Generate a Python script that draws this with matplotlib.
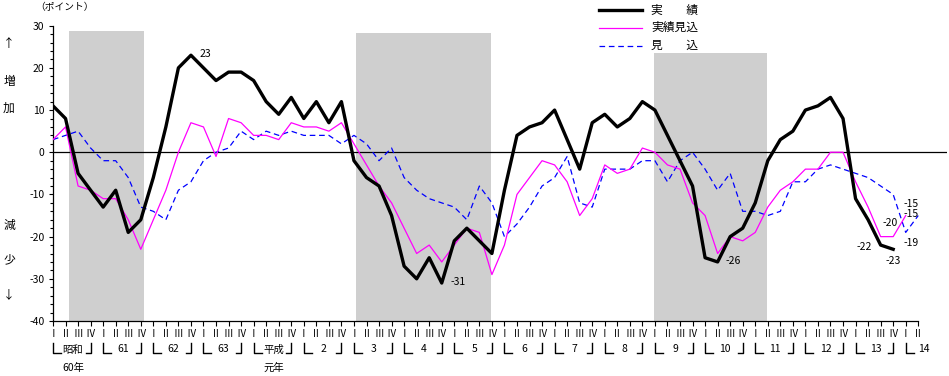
import numpy as np
import matplotlib
matplotlib.use("Agg")
import matplotlib.pyplot as plt
from matplotlib.lines import Line2D
from matplotlib import transforms

plt.rcParams['font.family'] = ['Noto Sans CJK JP', 'DejaVu Sans']
plt.rcParams['axes.unicode_minus'] = False

# 昭和60年Ⅰ期 ～ 平成14年Ⅱ期 (四半期)
quarter_labels = ["Ⅰ", "Ⅱ", "Ⅲ", "Ⅳ"]
year_labels = ["昭和", "61", "62", "63", "平成", "2", "3", "4", "5", "6", "7",
               "8", "9", "10", "11", "12", "13", "14"]
year_sublabels = {0: "60年", 4: "元年"}
n_quarters = 70

# 実績
jisseki = [11, 8, -5, -9, -13, -9, -19, -16, -6, 6, 20, 23,
           20, 17, 19, 19, 17, 12, 9, 13, 8, 12, 7, 12,
           -2, -6, -8, -15, -27, -30, -25, -31, -21, -18, -21, -24,
           -9, 4, 6, 7, 10, 3, -4, 7, 9, 6, 8, 12,
           10, 4, -2, -8, -25, -26, -20, -18, -12, -2, 3, 5,
           10, 11, 13, 8, -11, -16, -22, -23]
# 実績見込
jisseki_mikomi = [3, 6, -8, -9, -11, -11, -16, -23, -16, -9, 0, 7,
                  6, -1, 8, 7, 4, 4, 3, 7, 6, 6, 5, 7,
                  2, -3, -8, -12, -18, -24, -22, -26, -22, -18, -19, -29,
                  -22, -10, -6, -2, -3, -7, -15, -11, -3, -5, -4, 1,
                  0, -3, -4, -12, -15, -24, -20, -21, -19, -13, -9, -7,
                  -4, -4, 0, 0, -7, -13, -20, -20, -15]
# 見込
mikomi = [3, 4, 5, 1, -2, -2, -6, -13, -14, -16, -9, -7,
          -2, 0, 1, 5, 3, 5, 4, 5, 4, 4, 4, 2,
          4, 2, -2, 1, -6, -9, -11, -12, -13, -16, -8, -12,
          -20, -17, -13, -8, -6, -1, -12, -13, -4, -4, -4, -2,
          -2, -7, -2, 0, -4, -9, -5, -14, -14, -15, -14, -7,
          -7, -4, -3, -4, -5, -6, -8, -10, -19, -15]

# 景気後退期 (start, end, top)
recessions = [(1.28, 7.26, 28.8), (24.16, 34.93, 28.3), (47.9, 56.9, 23.6)]


def pad(vals):
    out = np.full(n_quarters, np.nan)
    out[:len(vals)] = vals
    return out


x = np.arange(n_quarters)
s_jisseki = pad(jisseki)
s_jm = pad(jisseki_mikomi)
s_mikomi = pad(mikomi)

W, H = 949, 376
AX_H = 295.3
fig = plt.figure(figsize=(W / 100, H / 100), dpi=100)
ax = fig.add_axes([53 / W, (H - 321) / H, 894 / W, AX_H / H])
ax.set_xlim(0, 894 / 12.54)
ax.set_ylim(-40, 30)

for x0, x1, top in recessions:
    ax.fill_between([x0, x1], -40, top, color='#cfcfcf', lw=0, zorder=0)

ax.axhline(0, color='black', lw=0.9, zorder=1)

ax.plot(x, s_mikomi, color='blue', lw=0.9, dashes=(4.5, 3), zorder=2)
ax.plot(x, s_jm, color='magenta', lw=0.9, zorder=3)
ax.plot(x, s_jisseki, color='black', lw=2.4, zorder=4)

for side in ['top', 'right']:
    ax.spines[side].set_visible(False)
ax.spines['bottom'].set_bounds(0, n_quarters - 1)
ax.spines['left'].set_linewidth(0.9)
ax.spines['bottom'].set_linewidth(0.9)

ax.set_xticks(x)
ax.set_xticklabels([quarter_labels[i % 4] for i in x], fontsize=7)
ax.tick_params(axis='x', direction='out', length=3.6, width=0.8, pad=2.5)
ax.set_yticks(np.arange(-40, 31, 10))
ax.set_yticks(np.arange(-40, 31, 2), minor=True)
ax.tick_params(axis='y', which='major', direction='out', length=3, width=0.8,
               labelsize=7.5, pad=3)
ax.tick_params(axis='y', which='minor', direction='out', length=2, width=0.8)

# 年ラベル (└ 年 ┘)
trans = transforms.blended_transform_factory(ax.transData, ax.transAxes)


def ay(py):
    return (321 - py) / AX_H


arm_l = 8 / 12.54
arm_r = 5 / 12.54
br_top, br_bot = ay(342.5), ay(353)
for k, lab in enumerate(year_labels):
    q1 = 4 * k
    if q1 >= n_quarters:
        break
    ax.add_line(Line2D([q1, q1, q1 + arm_l], [br_top, br_bot, br_bot], transform=trans,
                       color='black', lw=1, clip_on=False))
    if q1 + 3 < n_quarters:
        q4 = q1 + 3
        ax.add_line(Line2D([q4 - arm_r, q4, q4], [br_bot, br_bot, br_top], transform=trans,
                           color='black', lw=1, clip_on=False))
        ax.text(q1 + 1.6, ay(349.5), lab, transform=trans, ha='center', va='center', fontsize=7.5)
    else:
        ax.text(q1 + 1.0, ay(349.5), lab, transform=trans, ha='left', va='center', fontsize=7.5)
    if k in year_sublabels:
        ax.text(q1 + 1.6, ay(368), year_sublabels[k], transform=trans,
                ha='center', va='center', fontsize=7.5)


# 数値ラベル
def note(i, series, text, dx, dy, ha='left'):
    ax.annotate(text, (i, series[i]), xytext=(dx, dy), textcoords='offset points',
                ha=ha, va='center', fontsize=7.5)


note(11, s_jisseki, "23", 6.5, 1)
note(31, s_jisseki, "-31", 6.5, 1)
note(53, s_jisseki, "-26", 6, 0.5)
note(66, s_jisseki, "-22", -6.5, -1.5, ha='right')
note(67, s_jisseki, "-23", 0, -8.6, ha='center')
note(67, s_jm, "-20", -2.3, 10, ha='center')
note(69, s_mikomi, "-15", -5, 8, ha='center')
note(68, s_jm, "-15", 3.9, 1.2, ha='center')
note(68, s_mikomi, "-19", 3.9, -7.5, ha='center')


# 凡例
def fx(px):
    return px / W


def fy(py):
    return 1 - py / H


legend_items = [("実　　績", dict(color='black', lw=2.4)),
                ("実績見込", dict(color='magenta', lw=0.9)),
                ("見　　込", dict(color='blue', lw=0.9, dashes=(4.5, 3)))]
for row, (lab, style) in enumerate(legend_items):
    ypx = 10 + 17.8 * row
    fig.add_artist(Line2D([fx(599), fx(642)], [fy(ypx), fy(ypx)],
                          transform=fig.transFigure, **style))
    fig.text(fx(651), fy(ypx), lab, ha='left', va='center', fontsize=8.5)

# 縦軸の説明
fig.text(fx(35), fy(7.5), "（ポイント）", ha='left', va='center', fontsize=7)
for ch, ypx in [("↑", 43), ("増", 82), ("加", 108), ("減", 225), ("少", 260), ("↓", 295)]:
    fig.text(fx(9), fy(ypx), ch, ha='center', va='center', fontsize=8.5)

fig.savefig("out.png", dpi=100)
